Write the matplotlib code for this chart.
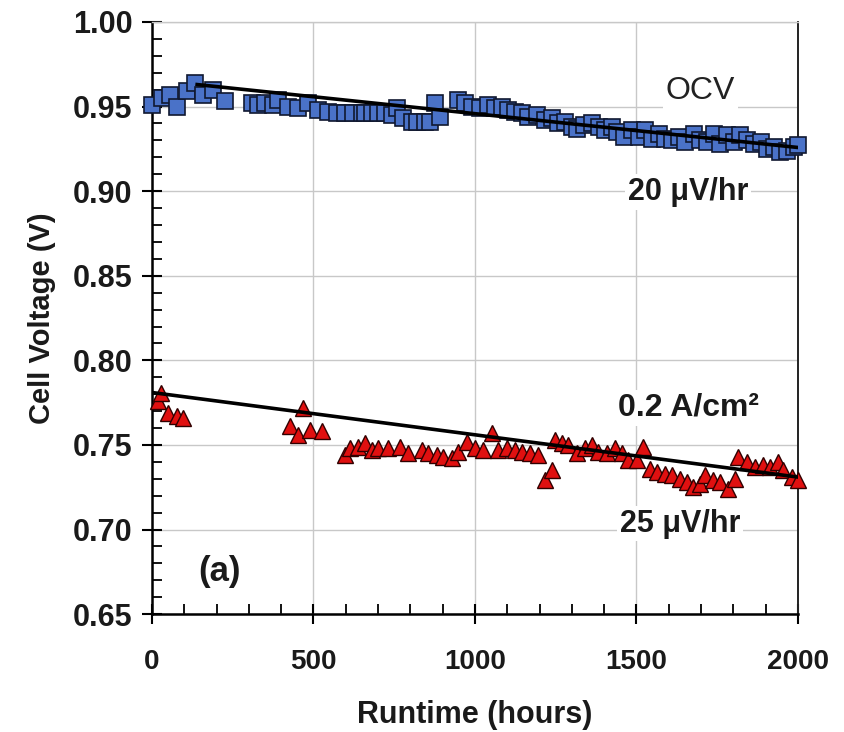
import matplotlib
matplotlib.use("Agg")
import matplotlib.pyplot as plt
from matplotlib.ticker import MultipleLocator, FormatStrFormatter

# OCV data (runtime hours, cell voltage V)
ocv_hours = [0, 31, 56, 77, 108, 133, 158, 189, 226, 310, 328, 350, 375, 390, 421, 452, 483,
             514, 545, 573, 598, 622, 650, 659, 681, 700, 721, 743, 759, 777, 805, 820, 845,
             860, 876, 892, 947, 969, 991, 1015, 1040, 1062, 1084, 1102, 1124, 1146, 1164,
             1192, 1217, 1238, 1257, 1279, 1300, 1316, 1337, 1362, 1384, 1402, 1424, 1440,
             1462, 1486, 1508, 1527, 1548, 1570, 1588, 1610, 1632, 1650, 1678, 1697, 1718,
             1740, 1759, 1780, 1802, 1820, 1842, 1864, 1885, 1904, 1925, 1944, 1966, 1988, 2000]
ocv_volts = [0.951, 0.955, 0.957, 0.950, 0.959, 0.964, 0.957, 0.960, 0.953, 0.952, 0.951, 0.952,
             0.951, 0.954, 0.950, 0.949, 0.952, 0.948, 0.947, 0.946, 0.946, 0.946, 0.946, 0.946,
             0.946, 0.946, 0.946, 0.945, 0.949, 0.943, 0.941, 0.941, 0.941, 0.941, 0.952, 0.944,
             0.954, 0.952, 0.950, 0.949, 0.951, 0.949, 0.950, 0.948, 0.947, 0.946, 0.944, 0.945,
             0.942, 0.943, 0.940, 0.941, 0.938, 0.937, 0.939, 0.940, 0.938, 0.936, 0.938, 0.935,
             0.932, 0.936, 0.932, 0.936, 0.931, 0.934, 0.931, 0.930, 0.932, 0.929, 0.934, 0.930,
             0.929, 0.934, 0.928, 0.933, 0.929, 0.933, 0.930, 0.928, 0.929, 0.925, 0.926, 0.923,
             0.924, 0.926, 0.927]

# 0.2 A/cm2 data
load_hours = [20, 28, 50, 77, 96, 427, 452, 467, 489, 526, 598, 613, 638, 659, 681, 700, 731,
              768, 793, 836, 855, 882, 901, 929, 947, 975, 1000, 1025, 1053, 1071, 1099, 1124,
              1146, 1170, 1195, 1217, 1238, 1248, 1270, 1288, 1316, 1340, 1362, 1381, 1409, 1433,
              1455, 1474, 1502, 1520, 1542, 1563, 1588, 1610, 1635, 1656, 1675, 1697, 1712, 1737,
              1759, 1783, 1805, 1814, 1842, 1867, 1892, 1913, 1938, 1954, 1981, 2000]
load_volts = [0.776, 0.781, 0.769, 0.767, 0.766, 0.761, 0.756, 0.772, 0.759, 0.758, 0.744, 0.748,
              0.749, 0.751, 0.747, 0.748, 0.748, 0.749, 0.745, 0.747, 0.745, 0.744, 0.743, 0.742,
              0.746, 0.752, 0.748, 0.747, 0.757, 0.747, 0.748, 0.747, 0.746, 0.745, 0.744, 0.729,
              0.735, 0.753, 0.751, 0.750, 0.745, 0.748, 0.750, 0.746, 0.745, 0.748, 0.745, 0.741,
              0.741, 0.749, 0.736, 0.734, 0.733, 0.732, 0.730, 0.728, 0.725, 0.727, 0.732, 0.729,
              0.728, 0.724, 0.730, 0.743, 0.740, 0.737, 0.738, 0.737, 0.740, 0.735, 0.731, 0.729]

# linear fits (endpoints)
ocv_fit_x = [140, 2000]
ocv_fit_y = [0.963, 0.9258]
load_fit_x = [0, 2000]
load_fit_y = [0.781, 0.731]

plt.rcParams['font.family'] = ['Liberation Sans', 'DejaVu Sans']

fig = plt.figure(figsize=(8.44, 7.32), dpi=100)
ax = fig.add_axes([0.180, 0.161, 0.7655, 0.809])

ax.plot(ocv_hours, ocv_volts, 's', color='#4a72c8', markeredgecolor='#101830',
        markeredgewidth=1.2, markersize=11, zorder=3, clip_on=False)
ax.plot(load_hours, load_volts, '^', color='#e01010', markeredgecolor='#300000',
        markeredgewidth=1.0, markersize=11, zorder=3, clip_on=False)
ax.plot(ocv_fit_x, ocv_fit_y, color='black', linewidth=2.6, zorder=4)
ax.plot(load_fit_x, load_fit_y, color='black', linewidth=2.6, zorder=4)

ax.set_xlim(0, 2000)
ax.set_ylim(0.65, 1.00)
ax.xaxis.set_major_locator(MultipleLocator(500))
ax.xaxis.set_minor_locator(MultipleLocator(100))
ax.yaxis.set_major_locator(MultipleLocator(0.05))
ax.yaxis.set_minor_locator(MultipleLocator(0.01))
ax.yaxis.set_major_formatter(FormatStrFormatter('%.2f'))

ax.grid(True, which='major', color='#c8c8c8', linewidth=1.0, zorder=0)
ax.set_axisbelow(True)

for side in ['left', 'bottom']:
    ax.spines[side].set_linewidth(1.8)
    ax.spines[side].set_color('black')
ax.spines['right'].set_color('#222222')
ax.spines['right'].set_linewidth(1.4)
ax.spines['top'].set_color('#c8c8c8')
ax.spines['top'].set_linewidth(1.0)

ax.tick_params(which='major', direction='inout', length=14, width=1.5, color='black',
               right=False, top=False)
ax.tick_params(which='minor', direction='in', length=7, width=1.3, color='black',
               right=False, top=False)
ax.tick_params(axis='y', which='major', labelsize=22, pad=7)
ax.tick_params(axis='x', which='major', labelsize=20, pad=18)
for lab in ax.get_xticklabels() + ax.get_yticklabels():
    lab.set_fontweight('bold')
    lab.set_color('#1a1a1a')

ax.set_xlabel('Runtime (hours)', fontsize=22, fontweight='bold', color='#1a1a1a', labelpad=18)
ax.set_ylabel('Cell Voltage (V)', fontsize=21, fontweight='bold', color='#1a1a1a', labelpad=12)

box = dict(facecolor='white', edgecolor='none', pad=2)
ax.text(1697, 0.959, 'OCV', fontsize=23, ha='center', va='center', color='#222222', bbox=box, zorder=2)
ax.text(1660, 0.8995, '20 μV/hr', fontsize=22, fontweight='bold', ha='center', va='center',
        color='#1a1a1a', bbox=box, zorder=2)
ax.text(1660, 0.772, '0.2 A/cm²', fontsize=23, fontweight='bold', ha='center', va='center',
        color='#1a1a1a', bbox=box, zorder=2)
ax.text(1635, 0.7035, '25 μV/hr', fontsize=22, fontweight='bold', ha='center', va='center',
        color='#1a1a1a', bbox=box, zorder=2)
ax.text(210, 0.675, '(a)', fontsize=25, fontweight='bold', ha='center', va='center', color='#1a1a1a')

fig.savefig('out.png', dpi=100, facecolor='white')
